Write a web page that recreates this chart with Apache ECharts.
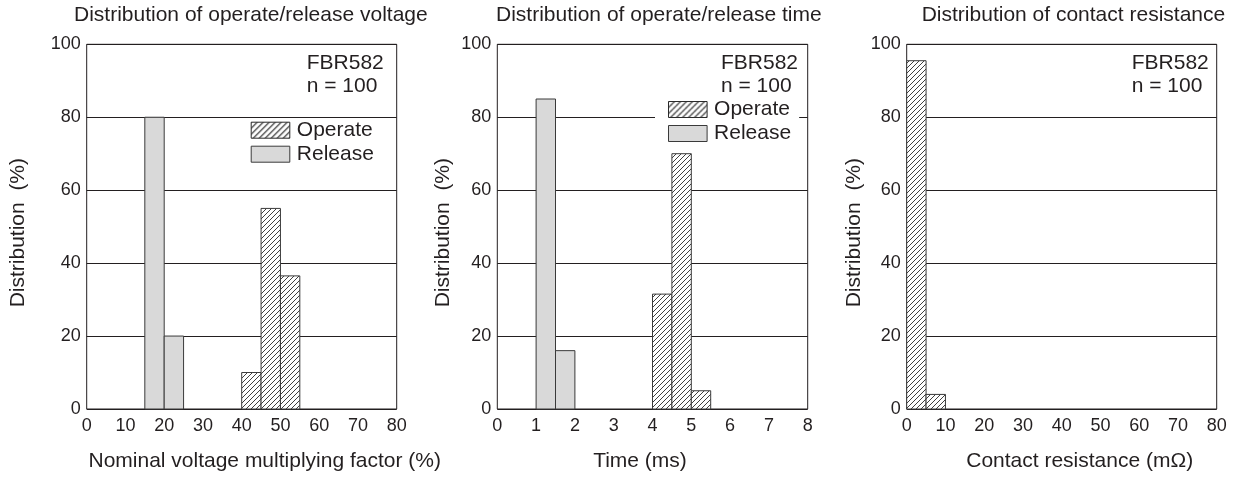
<!DOCTYPE html>
<html>
<head>
<meta charset="utf-8">
<script src="https://cdn.jsdelivr.net/npm/echarts@6/dist/echarts.min.js"></script>
<style>
html,body{margin:0;padding:0;background:#fff;}
#main{width:1240px;height:479px;}
</style>
</head>
<body>
<div id="main"></div>
<script>
// ---- data: each bin is [from, to, distribution %] ----
const titles = ['Distribution of operate/release voltage', 'Distribution of operate/release time', 'Distribution of contact resistance'];
const xNames = ['Nominal voltage multiplying factor (%)', 'Time (ms)', 'Contact resistance (m\u03A9)'];
const yName = 'Distribution  (%)';
const annotation = ['FBR582', 'n = 100'];
const legendNames = ['Operate', 'Release'];

const voltOperate = [[40, 45, 10], [45, 50, 55], [50, 55, 36.5]];
const voltRelease = [[15, 20, 80], [20, 25, 20]];
const timeOperate = [[4, 4.5, 31.5], [4.5, 5, 70], [5, 5.5, 5]];
const timeRelease = [[1, 1.5, 85], [1.5, 2, 16]];
const resOperate = [[0, 5, 95.5], [5, 10, 4]];

const xMax = [80, 8, 80];
const xInterval = [10, 1, 10];

// ---- styles ----
const INK = '#231f20';
const FONT = 'Liberation Sans, Arial, Helvetica, sans-serif';
const GRAY = '#d9d9d9';

function hatch(size, lw, col) {
  const c = document.createElement('canvas');
  c.width = size; c.height = size;
  const g = c.getContext('2d');
  g.fillStyle = '#fff';
  g.fillRect(0, 0, size, size);
  g.strokeStyle = col;
  g.lineWidth = lw;
  g.beginPath();
  g.moveTo(-1, size + 1); g.lineTo(size + 1, -1);
  g.moveTo(-1, 1); g.lineTo(1, -1);
  g.moveTo(size - 1, size + 1); g.lineTo(size + 1, size - 1);
  g.stroke();
  return c;
}
const barHatch = { image: hatch(5, 0.9, '#2a2a2a'), repeat: 'repeat' };
const legendHatch = { image: hatch(6, 1.1, '#1e1e1e'), repeat: 'repeat' };

function makeRender(fill) {
  return function (params, api) {
    const x0 = api.value(0), x1 = api.value(1), v = api.value(2);
    const p0 = api.coord([x0, v]);
    const p1 = api.coord([x1, 0]);
    return {
      type: 'rect',
      shape: { x: p0[0], y: p0[1], width: p1[0] - p0[0], height: p1[1] - p0[1] },
      style: { fill: fill, stroke: '#3a3a3a', lineWidth: 1 }
    };
  };
}

const grids = [
  { left: 86.7, top: 44.3, width: 310, height: 364.7 },
  { left: 497.3, top: 44.3, width: 310.4, height: 364.7 },
  { left: 906.7, top: 44.3, width: 310, height: 364.7 }
].map(g => Object.assign(g, { show: true, borderColor: INK, borderWidth: 1, backgroundColor: 'transparent' }));

const xNamePad = [[0, 0, 0, 46], [0, 25, 0, 0], [0, 0, 0, 36]];
const yNameGap = [58, 44, 41.5];

const xAxes = [0, 1, 2].map(i => ({
  type: 'value', gridIndex: i, min: 0, max: xMax[i], interval: xInterval[i],
  axisLine: { show: false }, axisTick: { show: false }, splitLine: { show: false },
  axisLabel: { color: INK, fontSize: 18, fontFamily: FONT, margin: 8 },
  name: xNames[i], nameLocation: 'middle', nameGap: 42,
  nameTextStyle: { color: INK, fontSize: 21, fontFamily: FONT, padding: xNamePad[i] }
}));
const yAxes = [0, 1, 2].map(i => ({
  type: 'value', gridIndex: i, min: 0, max: 100, interval: 20,
  axisLine: { show: false }, axisTick: { show: false },
  splitLine: { show: true, lineStyle: { color: INK, width: 1 } },
  axisLabel: { color: INK, fontSize: 18, fontFamily: FONT, margin: 6 },
  name: yName, nameLocation: 'middle', nameRotate: 90, nameGap: yNameGap[i],
  nameTextStyle: { color: INK, fontSize: 21, fontFamily: FONT, padding: [0, 12, 0, 0] }
}));

function binSeries(name, data, idx, fill) {
  return {
    type: 'custom', name: name, xAxisIndex: idx, yAxisIndex: idx,
    data: data, encode: { x: [0, 1], y: 2 },
    itemStyle: { color: fill },
    renderItem: makeRender(fill), z: 3
  };
}

const series = [
  binSeries('Operate', voltOperate, 0, barHatch),
  binSeries('Release', voltRelease, 0, GRAY),
  binSeries('Operate', timeOperate, 1, barHatch),
  binSeries('Release', timeRelease, 1, GRAY),
  binSeries('Contact', resOperate, 2, barHatch)
];

const legendData = [
  { name: legendNames[0], icon: 'rect', itemStyle: { color: legendHatch, borderColor: '#2a2a2a', borderWidth: 1 } },
  { name: legendNames[1], icon: 'rect', itemStyle: { color: GRAY, borderColor: '#3a3a3a', borderWidth: 1 } }
];
function legendAt(left, top, pad, bg) {
  return {
    data: legendData, orient: 'vertical', left: left, top: top,
    itemWidth: 38.6, itemHeight: 16, itemGap: 3, padding: pad,
    backgroundColor: bg, selectedMode: false,
    textStyle: { color: INK, fontSize: 21, fontFamily: FONT, padding: [0, 0, 0, 2] }
  };
}

const titleLeft = [74, 496, 921.7];
const annX = [306.7, 721, 1131.7];

const option = {
  animation: false,
  backgroundColor: '#fff',
  title: titles.map((t, i) => ({
    text: t, left: titleLeft[i], top: 5, padding: 0,
    textStyle: { color: INK, fontSize: 21, fontWeight: 'normal', fontFamily: FONT }
  })),
  grid: grids,
  xAxis: xAxes,
  yAxis: yAxes,
  legend: [
    legendAt(250.7, 119.7, 0, 'transparent'),
    legendAt(655, 97, [2, 8, 2, 13], '#ffffff')
  ],
  graphic: annX.map(x => ({
    type: 'text', x: x, y: 51, z: 10,
    style: { text: annotation.join('\n'), fill: INK, fontSize: 21, fontFamily: FONT, lineHeight: 23.5, verticalAlign: 'top' }
  })),
  series: series
};

const chart = echarts.init(document.getElementById('main'), null, { renderer: 'canvas' });
chart.setOption(option);
</script>
</body>
</html>
